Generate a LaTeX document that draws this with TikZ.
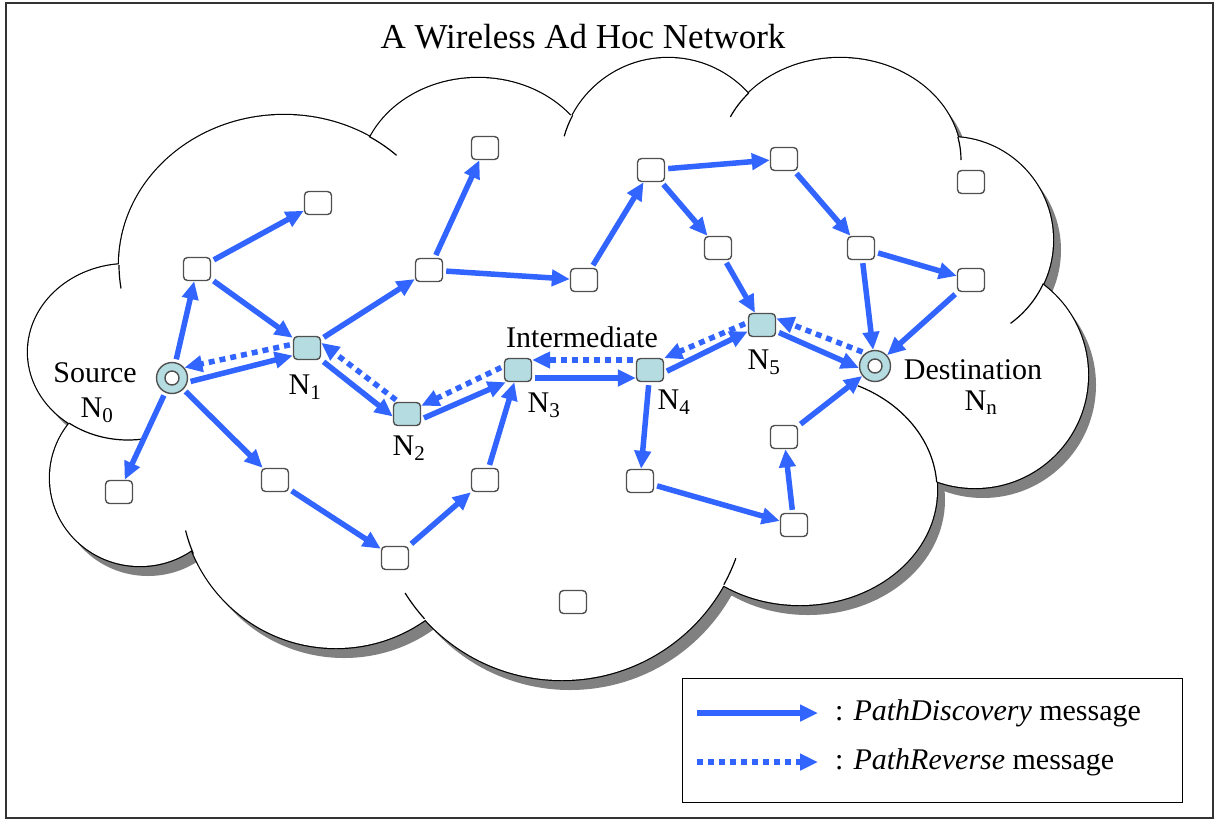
\documentclass[tikz,border=0pt]{standalone}
\usepackage{fontspec}
\setmainfont{Liberation Serif}
\usetikzlibrary{arrows.meta}
\definecolor{arrowblue}{RGB}{50,100,255}
\definecolor{nodeblue}{RGB}{180,220,225}
\definecolor{shadowgray}{RGB}{128,128,128}
\definecolor{boxgray}{RGB}{80,80,80}
\begin{document}
\begin{tikzpicture}[x=1pt,y=-1pt,
  sq/.style={draw=boxgray,line width=1.4pt,rounded corners=4pt,fill=white,minimum width=27pt,minimum height=23pt,inner sep=0pt},
  sqf/.style={sq,fill=nodeblue},
  endpt/.style={circle,draw=boxgray,line width=1.4pt,fill=nodeblue,minimum size=31pt,inner sep=0pt},
  lbl/.style={font=\fontsize{30}{34}\selectfont,inner sep=0pt},
  msg/.style={line width=5.5pt,draw=arrowblue,-{Triangle[length=18pt,width=16pt]},shorten <=3pt},
  rev/.style={msg,dash pattern=on 6pt off 5pt},
  cloudline/.style={line width=1.2pt,black}
]
\useasboundingbox (0,0) rectangle (1226,823);
\fill[white] (0,0) rectangle (1226,823);
\draw[black!80,line width=1.5pt] (6,3) rectangle (1213,818);

\def\lobes{128/352/100/88, 284/265/165/150, 478/178/118/100, 668/166/108/108, 840/160/121/102, 950/240/103/103, 975/375/113/113, 800/490/137/115, 562/495/185/185, 336/493/155/155, 140/478/90/88}
\def\poly{(125,272) -- (368,140) -- (573,115) -- (752,100) -- (952,145) -- (1035,285) -- (930,485) -- (730,585) -- (427,615) -- (195,545) -- (88,425) -- cycle}

% shadow
\begin{scope}[shift={(8,10)}]
  \fill[shadowgray] \poly;
  \foreach \cx/\cy/\rx/\ry in \lobes {\fill[shadowgray] (\cx,\cy) ellipse [x radius=\rx, y radius=\ry];}
\end{scope}
% outline
\foreach \cx/\cy/\rx/\ry in \lobes {\draw[line width=2.4pt] (\cx,\cy) ellipse [x radius=\rx, y radius=\ry];}
\fill[white] \poly;
\foreach \cx/\cy/\rx/\ry in \lobes {\fill[white] (\cx,\cy) ellipse [x radius=\rx, y radius=\ry];}
% interior stubs
\foreach \cx/\cy/\rx/\ry/\a/\b in {284/265/165/150/171/180, 284/265/165/150/301/313, 668/166/108/108/196/208, 840/160/121/102/205/221, 840/160/121/102/-13/0, 950/240/103/103/25/54, 800/490/137/115/-65/-4, 562/495/185/185/20/29, 562/495/185/185/138/148, 336/493/155/155/157/166, 128/352/100/88/82/126}
  {\draw[cloudline] ({\cx+\rx*cos(\a)},{\cy+\ry*sin(\a)}) arc[start angle=\a, end angle=\b, x radius=\rx, y radius=\ry];}

% title
\node[font=\fontsize{35}{40}\selectfont,inner sep=0pt] (title) at (583,37) {A Wireless Ad Hoc Network};

% nodes
\node[sq] (s1) at (197,269) {};
\node[sq] (s2) at (318,203) {};
\node[sq] (s3) at (429,270) {};
\node[sq] (s4) at (485,148) {};
\node[sq] (s5) at (584,280) {};
\node[sq] (s6) at (651,170) {};
\node[sq] (s7) at (784,159) {};
\node[sq] (s8) at (718,248) {};
\node[sq] (s9) at (861,248) {};
\node[sq] (s10) at (971,182) {};
\node[sq] (s11) at (971,280) {};
\node[sq] (s12) at (119,492) {};
\node[sq] (s13) at (275,480) {};
\node[sq] (s14) at (395,558) {};
\node[sq] (s15) at (485,480) {};
\node[sq] (s16) at (573,602) {};
\node[sq] (s17) at (640,481) {};
\node[sq] (s18) at (794,525) {};
\node[sq] (s19) at (784,437) {};
\node[sqf] (N1) at (307,348) {};
\node[sqf] (N2) at (407,414) {};
\node[sqf] (N3) at (518,370) {};
\node[sqf] (N4) at (650,370) {};
\node[sqf] (N5) at (762,325) {};
\node[endpt] (N0) at (172,378) {};
\node[endpt] (Nn) at (875,366) {};
\draw[boxgray,line width=1.4pt,fill=white] (N0.center) circle[radius=7pt];
\draw[boxgray,line width=1.4pt,fill=white] (Nn.center) circle[radius=7pt];

% labels
\node[lbl] (lsrc) at (95,373) {Source};
\node[lbl] (l0) at (97,410) {N\textsubscript{0}};
\node[lbl] (l1) at (305,387) {N\textsubscript{1}};
\node[lbl] (l2) at (409,448) {N\textsubscript{2}};
\node[lbl] (l3) at (544,405) {N\textsubscript{3}};
\node[lbl] (l4) at (674,402) {N\textsubscript{4}};
\node[lbl] (l5) at (764,362) {N\textsubscript{5}};
\node[lbl] (linter) at (582,337) {Intermediate};
\node[lbl] (ldest) at (973,370) {Destination};
\node[lbl] (ln) at (981,403) {N\textsubscript{n}};

% PathDiscovery messages
\draw[msg] (N0) -- (s1);
\draw[msg] (N0) -- (s12);
\draw[msg] (N0.-15) -- (N1.208);
\draw[msg] (N0) -- (s13);
\draw[msg] (s1) -- (s2);
\draw[msg] (s1) -- (N1);
\draw[msg] (N1) -- (s3);
\draw[msg] (N1.-40) -- (N2.190);
\draw[msg] (N2.-20) -- (N3.225);
\draw[msg] (s3) -- (s4);
\draw[msg] (s3) -- (s5);
\draw[msg] (s5) -- (s6);
\draw[msg] (s6) -- (s7);
\draw[msg] (s6) -- (s8);
\draw[msg] (s8) -- (N5);
\draw[msg] (s7) -- (s9);
\draw[msg] (s9) -- (s11);
\draw[msg] (s9) -- (Nn);
\draw[msg] (s11) -- (Nn);
\draw[msg] ([yshift=-8pt]N3.east) -- ([yshift=-8pt]N4.west);
\draw[msg] (N4.-10) -- (N5.204);
\draw[msg] (N5.-24) -- (Nn.187);
\draw[msg] (N4) -- (s17);
\draw[msg] (s17) -- (s18);
\draw[msg] (s18) -- (s19);
\draw[msg] (s19) -- (Nn);
\draw[msg] (s13) -- (s14);
\draw[msg] (s14) -- (s15);
\draw[msg] (s15) -- (N3);

% PathReverse messages
\draw[rev] (N1.165) -- (N0.40);
\draw[rev] (N2.125) -- (N1.20);
\draw[rev] (N3.165) -- (N2.30);
\draw[rev] ([yshift=10pt]N4.west) -- ([yshift=10pt]N3.east);
\draw[rev] (N5.170) -- (N4.40);
\draw[rev] (Nn.127) -- (N5.25);

% legend
\node[draw=black,line width=1.2pt,minimum width=500pt,minimum height=124pt,inner sep=0pt,anchor=north west] (legend) at (682,678) {};
\coordinate (la1) at (697,713);
\coordinate (la2) at (818,713);
\coordinate (lb1) at (697,762);
\coordinate (lb2) at (818,762);
\draw[msg,shorten <=0pt] (la1) -- (la2);
\draw[rev,shorten <=0pt] (lb1) -- (lb2);
\node[lbl,anchor=west] (lt1) at (835,713) {: \textit{PathDiscovery} message};
\node[lbl,anchor=west] (lt2) at (835,762) {: \textit{PathReverse} message};
\end{tikzpicture}
\end{document}
